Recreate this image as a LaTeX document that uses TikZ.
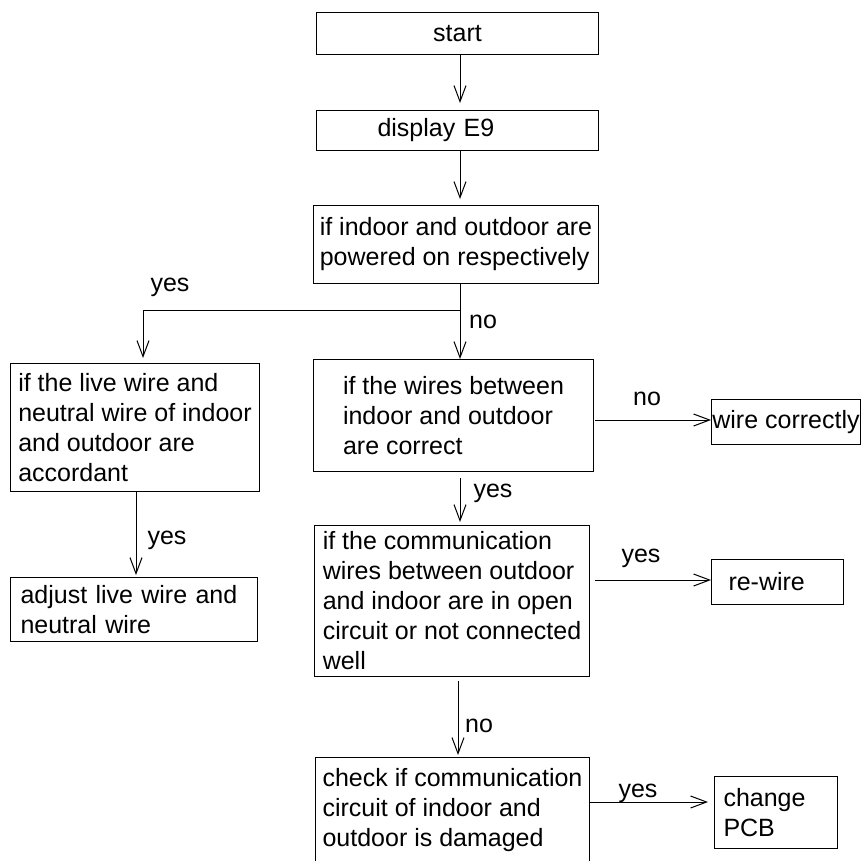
\documentclass[tikz,border=0pt]{standalone}
\usepackage{fontspec}
\setmainfont{Liberation Sans}
\usetikzlibrary{arrows.meta}
\begin{document}
\begin{tikzpicture}[x=1pt, y=-1pt, line width=1pt,
		box/.style={draw, anchor=north west, inner sep=0pt, align=left},
		flow/.style={-{Straight Barb[length=16pt, width=12pt]}},
		every node/.style={font=\fontsize{25}{30}\selectfont}]
	\useasboundingbox (0,0) rectangle (861,861);
	\coordinate (split) at (460,310);
	\coordinate (yesdrop) at (143,310);

	\node[box, align=center, minimum width=282pt, minimum height=42pt] (start) at (316,12) {start};
	\node[box, text width=160pt, minimum width=282pt, minimum height=40pt] (display) at (316,110) {display E9};
	\node[box, minimum width=285pt, minimum height=78pt] (ask) at (313,205) {if indoor and outdoor are\\powered on respectively};
	\node[box, minimum width=249pt, minimum height=128pt] (live) at (10,363) {if the live wire and\\neutral wire of indoor\\and outdoor are\\accordant};
	\node[box, minimum width=280pt, minimum height=112pt] (wires) at (313,359) {if the wires between\\indoor and outdoor\\are correct};
	\node[box, align=center, minimum width=149pt, minimum height=45pt] (wirecorr) at (711,399) {wire correctly};
	\node[box, text width=227pt, minimum width=247pt, minimum height=64pt] (adjust) at (10,577) {adjust live wire and\\neutral wire};
	\node[box, minimum width=275pt, minimum height=151pt] (comm) at (314,525) {if the communication\\wires between outdoor\\and indoor are in open\\circuit or not connected\\well};
	\node[box, text width=98pt, minimum width=132pt, minimum height=45pt] (rewire) at (711,559) {re-wire};
	\node[box, minimum width=274pt, minimum height=138pt] (check) at (315,757) {check if communication\\circuit of indoor and\\outdoor is damaged\\\strut};
	\node[box, text width=105pt, minimum width=123pt, minimum height=72pt] (pcb) at (714,776) {change\\PCB};

	\draw[flow, shorten >=7pt] (start.south -| split) -- (display.north -| split);
	\draw[flow, shorten >=6pt] (display.south -| split) -- (ask.north -| split);
	\draw (ask.south -| split) -- (split);
	\draw[flow, shorten >=5pt] (split) -- (yesdrop) -- (yesdrop |- live.north);
	\draw[flow] (split) -- (split |- wires.north);
	\draw[flow] ([xshift=1pt]wires.east |- 0,420) -- (wirecorr.west |- 0,420);
	\draw[flow, shorten >=3pt, shorten <=6pt] (wires.south -| split) -- (comm.north -| split);
	\draw[flow, shorten >=2pt] (live.south -| 136,0) -- (adjust.north -| 136,0);
	\draw[flow, shorten <=5pt] (comm.east |- 0,580) -- (rewire.west |- 0,580);
	\draw[flow, shorten <=4pt, shorten >=2pt] (comm.south -| 458,0) -- (check.north -| 458,0);
	\draw[flow, shorten >=6pt] (check.east |- 0,802) -- (pcb.west |- 0,802);

	\node (yesleft) at (170,287) {yes};
	\node (nosplit) at (483,322) {no};
	\node (nowire) at (647,399) {no};
	\node (yeswire) at (493,493) {yes};
	\node (yesadjust) at (167,540) {yes};
	\node (yesrewire) at (641,558) {yes};
	\node (nocheck) at (479,726) {no};
	\node (yespcb) at (638,793) {yes};
\end{tikzpicture}
\end{document}
